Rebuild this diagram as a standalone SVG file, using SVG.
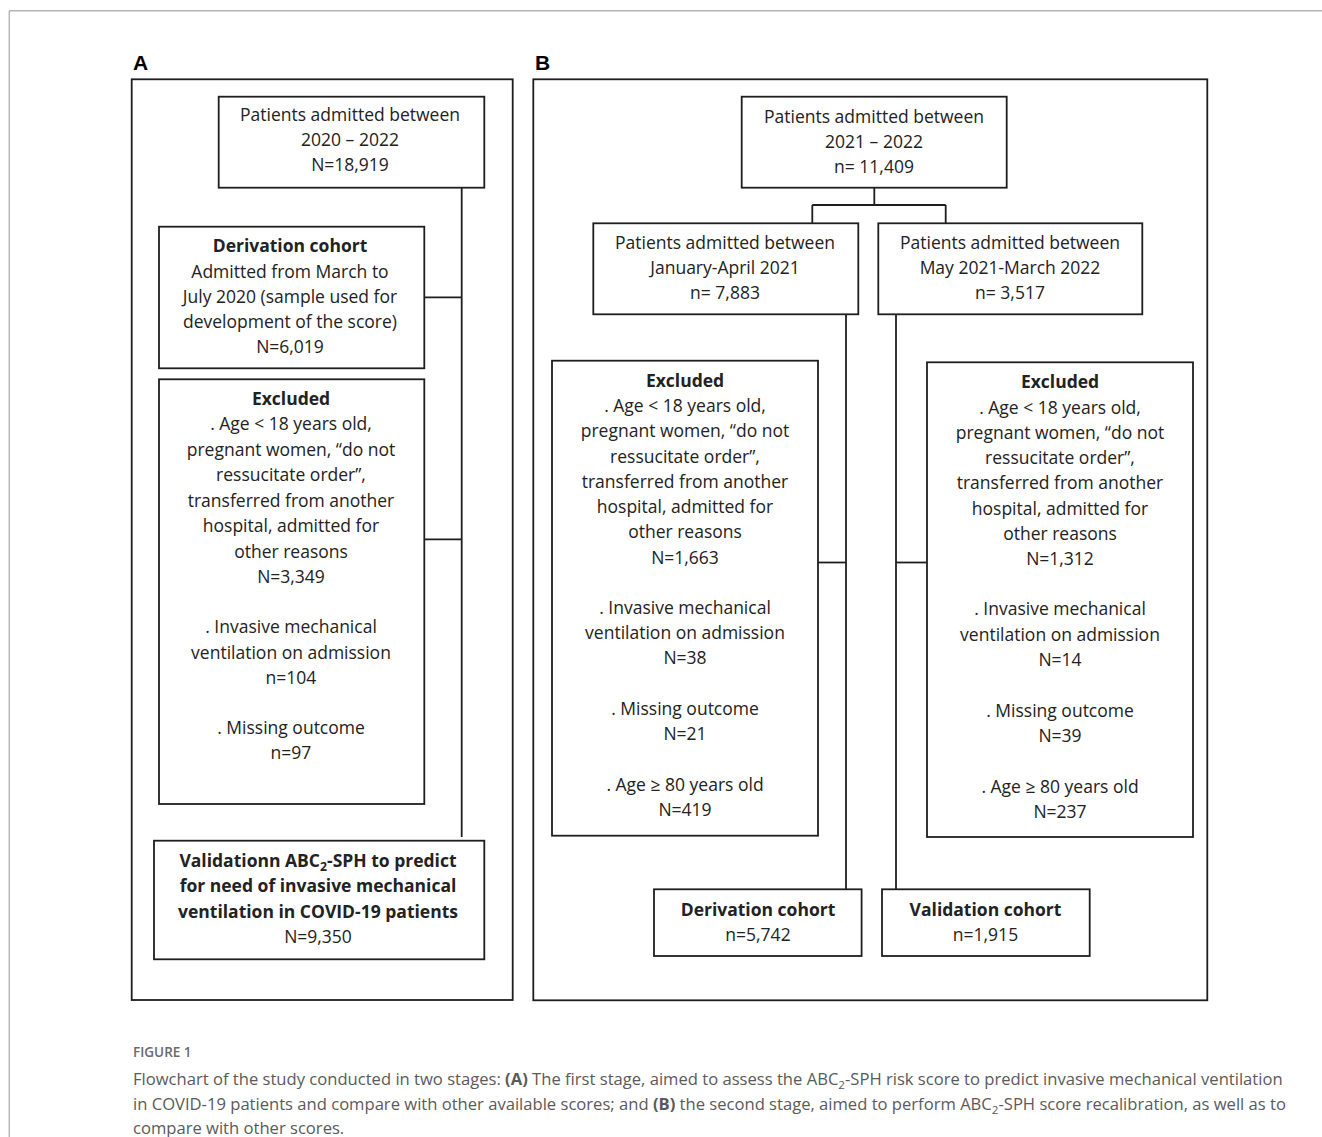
<svg xmlns="http://www.w3.org/2000/svg" width="1322" height="1137" viewBox="0 0 1322 1137">
<style>
.box{fill:#fff;stroke:#1e1e1e;stroke-width:1.8}
.panel{fill:none;stroke:#1e1e1e;stroke-width:1.8}
.frame{fill:none;stroke:#b3b3b3;stroke-width:1.4}
.con line{stroke:#1e1e1e;stroke-width:1.8}
.t{font-family:"Open Sans","Noto Sans",sans-serif;font-size:17.5px;fill:#222;text-anchor:middle}
.b{font-weight:bold}
.lbl{font-family:"Liberation Sans",Arial,sans-serif;font-size:21px;font-weight:bold;fill:#000}
.cap{font-family:"Open Sans","Noto Sans",sans-serif;font-size:16.6px;fill:#5a5a5a}
.fig{font-family:"Open Sans","Noto Sans",sans-serif;font-size:13.5px;font-weight:600;fill:#6a6a6a}
.sub{font-size:70%}
</style>
<rect width="1322" height="1137" fill="#fff"/>
<g id="frame">
<line class="frame" x1="9.3" y1="10.7" x2="1322" y2="10.7"/>
<line class="frame" x1="9.3" y1="10.7" x2="9.3" y2="1137"/>
</g>
<g id="panelA">
<text class="lbl" x="133" y="70">A</text>
<rect class="panel" x="131.7" y="79.3" width="381" height="920.7"/>
</g>
<g id="panelB">
<text class="lbl" x="535" y="70">B</text>
<rect class="panel" x="533.3" y="79.3" width="674" height="921"/>
</g>
<g id="connectors" class="con">
<line x1="461.7" y1="187.7" x2="461.7" y2="837"/>
<line x1="424.3" y1="297.3" x2="461.7" y2="297.3"/>
<line x1="424.3" y1="539.3" x2="461.7" y2="539.3"/>
<line x1="874.3" y1="187.7" x2="874.3" y2="205"/>
<line x1="812.3" y1="205" x2="945.7" y2="205"/>
<line x1="812.3" y1="205" x2="812.3" y2="223.3"/>
<line x1="945.7" y1="205" x2="945.7" y2="223.3"/>
<line x1="846" y1="314.3" x2="846" y2="889.3"/>
<line x1="896" y1="314.3" x2="896" y2="889.3"/>
<line x1="818" y1="562.5" x2="846" y2="562.5"/>
<line x1="896" y1="562.5" x2="927" y2="562.5"/>
</g>
<g id="a_top">
<rect class="box" x="218.7" y="96.7" width="265.6" height="91"/>
<text class="t" x="350" y="121">Patients admitted between</text>
<text class="t" x="350" y="146">2020 – 2022</text>
<text class="t" x="350" y="171">N=18,919</text>
</g>
<g id="a_derivation">
<rect class="box" x="159" y="226.7" width="265.3" height="141.6"/>
<text class="t b" x="290" y="252">Derivation cohort</text>
<text class="t" x="290" y="277.7">Admitted from March to</text>
<text class="t" x="290" y="302.7">July 2020 (sample used for</text>
<text class="t" x="290" y="327.7">development of the score)</text>
<text class="t" x="290" y="352.7">N=6,019</text>
</g>
<g id="a_excluded">
<rect class="box" x="159" y="379.3" width="265.3" height="424.7"/>
<text class="t b" x="291" y="405.3">Excluded</text>
<text class="t" x="291" y="430.3">. Age &lt; 18 years old,</text>
<text class="t" x="291" y="456">pregnant women, “do not</text>
<text class="t" x="291" y="481.3">ressucitate order”,</text>
<text class="t" x="291" y="506.7">transferred from another</text>
<text class="t" x="291" y="531.7">hospital, admitted for</text>
<text class="t" x="291" y="557.7">other reasons</text>
<text class="t" x="291" y="582.7">N=3,349</text>
<text class="t" x="291" y="632.7">. Invasive mechanical</text>
<text class="t" x="291" y="658.7">ventilation on admission</text>
<text class="t" x="291" y="683.7">n=104</text>
<text class="t" x="291" y="734.3">. Missing outcome</text>
<text class="t" x="291" y="759.3">n=97</text>
</g>
<g id="a_validation">
<rect class="box" x="154" y="840.7" width="330.3" height="118.6"/>
<text class="t b" x="318" y="866.7">Validationn ABC<tspan class="sub" dy="4">2</tspan><tspan dy="-4">-SPH to predict</tspan></text>
<text class="t b" x="318" y="892">for need of invasive mechanical</text>
<text class="t b" x="318" y="917.7">ventilation in COVID-19 patients</text>
<text class="t" x="318" y="942.7">N=9,350</text>
</g>
<g id="b_top">
<rect class="box" x="741.7" y="96.7" width="265" height="91"/>
<text class="t" x="874" y="122.7">Patients admitted between</text>
<text class="t" x="874" y="147.7">2021 – 2022</text>
<text class="t" x="874" y="172.7">n= 11,409</text>
</g>
<g id="b_left">
<rect class="box" x="593.3" y="223.3" width="265" height="91"/>
<text class="t" x="725" y="248.7">Patients admitted between</text>
<text class="t" x="725" y="274.3">January-April 2021</text>
<text class="t" x="725" y="299.3">n= 7,883</text>
</g>
<g id="b_right">
<rect class="box" x="878.3" y="223.3" width="264" height="91"/>
<text class="t" x="1010" y="248.7">Patients admitted between</text>
<text class="t" x="1010" y="274.3">May 2021-March 2022</text>
<text class="t" x="1010" y="299.3">n= 3,517</text>
</g>
<g id="b_excluded_left">
<rect class="box" x="552" y="360.7" width="266" height="475"/>
<text class="t b" x="685" y="386.7">Excluded</text>
<text class="t" x="685" y="412">. Age &lt; 18 years old,</text>
<text class="t" x="685" y="437">pregnant women, “do not</text>
<text class="t" x="685" y="462.7">ressucitate order”,</text>
<text class="t" x="685" y="487.7">transferred from another</text>
<text class="t" x="685" y="512.7">hospital, admitted for</text>
<text class="t" x="685" y="538.3">other reasons</text>
<text class="t" x="685" y="563.7">N=1,663</text>
<text class="t" x="685" y="614.3">. Invasive mechanical</text>
<text class="t" x="685" y="639.3">ventilation on admission</text>
<text class="t" x="685" y="664.3">N=38</text>
<text class="t" x="685" y="715.3">. Missing outcome</text>
<text class="t" x="685" y="740.3">N=21</text>
<text class="t" x="685" y="791">. Age ≥ 80 years old</text>
<text class="t" x="685" y="816">N=419</text>
</g>
<g id="b_excluded_right">
<rect class="box" x="927" y="362.3" width="266" height="474.7"/>
<text class="t b" x="1060" y="388.3">Excluded</text>
<text class="t" x="1060" y="413.5">. Age &lt; 18 years old,</text>
<text class="t" x="1060" y="438.7">pregnant women, “do not</text>
<text class="t" x="1060" y="464">ressucitate order”,</text>
<text class="t" x="1060" y="489.2">transferred from another</text>
<text class="t" x="1060" y="514.5">hospital, admitted for</text>
<text class="t" x="1060" y="539.8">other reasons</text>
<text class="t" x="1060" y="565.3">N=1,312</text>
<text class="t" x="1060" y="615.3">. Invasive mechanical</text>
<text class="t" x="1060" y="640.7">ventilation on admission</text>
<text class="t" x="1060" y="666">N=14</text>
<text class="t" x="1060" y="716.7">. Missing outcome</text>
<text class="t" x="1060" y="742">N=39</text>
<text class="t" x="1060" y="792.7">. Age ≥ 80 years old</text>
<text class="t" x="1060" y="817.7">N=237</text>
</g>
<g id="b_derivation">
<rect class="box" x="654" y="889.3" width="207.6" height="66.7"/>
<text class="t b" x="758" y="916">Derivation cohort</text>
<text class="t" x="758" y="941">n=5,742</text>
</g>
<g id="b_validation">
<rect class="box" x="882" y="889.3" width="207.7" height="66.7"/>
<text class="t b" x="985.5" y="916">Validation cohort</text>
<text class="t" x="985.5" y="941">n=1,915</text>
</g>
<g id="caption">
<text class="fig" x="133" y="1057">FIGURE 1</text>
<text class="cap" x="133" y="1085">Flowchart of the study conducted in two stages: <tspan font-weight="bold">(A)</tspan> The first stage, aimed to assess the ABC<tspan class="sub" dy="4">2</tspan><tspan dy="-4">-SPH risk score to predict invasive mechanical ventilation</tspan></text>
<text class="cap" x="133" y="1110">in COVID-19 patients and compare with other available scores; and <tspan font-weight="bold">(B)</tspan> the second stage, aimed to perform ABC<tspan class="sub" dy="4">2</tspan><tspan dy="-4">-SPH score recalibration, as well as to</tspan></text>
<text class="cap" x="133" y="1134">compare with other scores.</text>
</g>
</svg>
